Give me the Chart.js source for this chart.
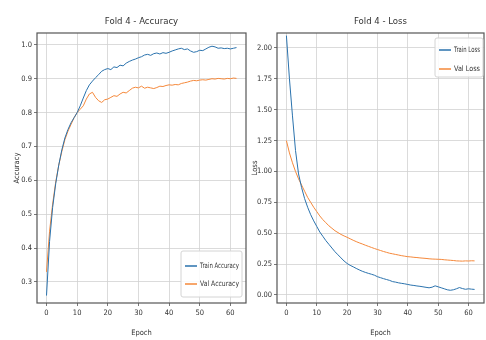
<!DOCTYPE html>
<html>
<head>
<meta charset="utf-8">
<script src="https://cdn.jsdelivr.net/npm/chart.js@4.4.1/dist/chart.umd.min.js"></script>
<style>
  html, body { margin: 0; padding: 0; background: #fff; }
  #wrap { position: relative; width: 486px; height: 340px; overflow: hidden; }
  canvas { position: absolute; top: 0; }
  #accChart { left: 0; }
  #lossChart { left: 246px; }
</style>
</head>
<body>
<div id="wrap">
  <canvas id="accChart" width="250" height="340"></canvas>
  <canvas id="lossChart" width="240" height="340"></canvas>
</div>
<script>
// epochs and per-epoch values
const epochs = [0, 1, 2, 3, 4, 5, 6, 7, 8, 9, 10, 11, 12, 13, 14, 15, 16, 17, 18, 19,
  20, 21, 22, 23, 24, 25, 26, 27, 28, 29, 30, 31, 32, 33, 34, 35, 36, 37, 38, 39,
  40, 41, 42, 43, 44, 45, 46, 47, 48, 49, 50, 51, 52, 53, 54, 55, 56, 57, 58, 59,
  60, 61, 62];

const trainAcc = [0.26, 0.42, 0.52, 0.59, 0.645, 0.69, 0.725, 0.75, 0.77, 0.785,
  0.80, 0.82, 0.843, 0.865, 0.882, 0.893, 0.903, 0.912, 0.922, 0.927,
  0.93, 0.927, 0.935, 0.933, 0.94, 0.938, 0.946, 0.951, 0.955, 0.958,
  0.962, 0.965, 0.97, 0.972, 0.969, 0.974, 0.976, 0.973, 0.977, 0.975,
  0.978, 0.982, 0.985, 0.988, 0.99, 0.986, 0.988, 0.982, 0.978, 0.98,
  0.984, 0.983, 0.988, 0.993, 0.996, 0.994, 0.99, 0.991, 0.989, 0.99,
  0.988, 0.99, 0.992];

const valAcc = [0.33, 0.45, 0.53, 0.595, 0.645, 0.685, 0.72, 0.745, 0.765, 0.785,
  0.80, 0.81, 0.82, 0.84, 0.855, 0.86, 0.845, 0.835, 0.83, 0.838,
  0.84, 0.845, 0.85, 0.848, 0.855, 0.86, 0.858, 0.865, 0.872, 0.875,
  0.873, 0.878, 0.872, 0.875, 0.873, 0.871, 0.874, 0.878, 0.877, 0.88,
  0.882, 0.881, 0.883, 0.882, 0.886, 0.888, 0.89, 0.893, 0.895, 0.894,
  0.896, 0.897, 0.896, 0.898, 0.90, 0.899, 0.901, 0.90, 0.899, 0.901,
  0.90, 0.902, 0.901];

const trainLoss = [2.10, 1.75, 1.45, 1.17, 0.98, 0.87, 0.78, 0.71, 0.65, 0.60,
  0.555, 0.51, 0.475, 0.44, 0.41, 0.38, 0.35, 0.325, 0.30, 0.275,
  0.255, 0.24, 0.228, 0.215, 0.203, 0.192, 0.183, 0.175, 0.168, 0.16,
  0.148, 0.14, 0.132, 0.125, 0.118, 0.108, 0.104, 0.098, 0.094, 0.09,
  0.085, 0.08, 0.077, 0.073, 0.07, 0.066, 0.062, 0.058, 0.063, 0.074,
  0.066, 0.058, 0.05, 0.042, 0.038, 0.042, 0.05, 0.06, 0.052, 0.046,
  0.05, 0.047, 0.045];

const valLoss = [1.25, 1.15, 1.07, 1.0, 0.94, 0.89, 0.84, 0.79, 0.75, 0.71,
  0.675, 0.64, 0.61, 0.585, 0.56, 0.54, 0.52, 0.505, 0.49, 0.478,
  0.467, 0.455, 0.443, 0.432, 0.422, 0.413, 0.403, 0.394, 0.385, 0.376,
  0.368, 0.36, 0.352, 0.345, 0.338, 0.333, 0.328, 0.323, 0.318, 0.314,
  0.31, 0.308, 0.305, 0.303, 0.30, 0.298, 0.296, 0.293, 0.291, 0.29,
  0.289, 0.288, 0.285, 0.283, 0.281, 0.279, 0.276, 0.275, 0.274, 0.276,
  0.275, 0.277, 0.276];

const epochTicks = [0, 10, 20, 30, 40, 50, 60];
const accTicks = [0.3, 0.4, 0.5, 0.6, 0.7, 0.8, 0.9, 1.0];
const lossTicks = [0, 0.25, 0.5, 0.75, 1.0, 1.25, 1.5, 1.75, 2.0];

const FONT = "'DejaVu Sans Condensed', 'Liberation Sans Narrow', 'DejaVu Sans', sans-serif";
const BLUE = '#2a72ad';
const ORANGE = '#f5883a';

Chart.defaults.font.family = FONT;
Chart.defaults.color = '#333';

// Helper to pair epochs with values for a linear x axis
function toPoints(values) {
  return values.map((v, i) => ({ x: epochs[i], y: v }));
}

// matplotlib-like box around the plot area
const framePlugin = {
  id: 'frame',
  afterDraw(chart) {
    const { ctx, chartArea: a } = chart;
    ctx.save();
    ctx.strokeStyle = '#555';
    ctx.lineWidth = 1.2;
    ctx.strokeRect(a.left, a.top, a.right - a.left, a.bottom - a.top);
    ctx.restore();
  }
};

// legend drawn inside the plot, like loc='lower right' / 'upper right'
const boxLegend = {
  id: 'boxLegend',
  afterDraw(chart, args, opts) {
    const ctx = chart.ctx;
    ctx.save();
    ctx.beginPath();
    ctx.roundRect(opts.x, opts.y, opts.w, opts.h, 2);
    ctx.fillStyle = 'rgba(255,255,255,0.85)';
    ctx.fill();
    ctx.strokeStyle = '#d4d4d4';
    ctx.lineWidth = 1;
    ctx.stroke();
    ctx.font = `7.5px ${FONT}`;
    ctx.textBaseline = 'middle';
    chart.data.datasets.forEach((ds, i) => {
      const cy = opts.y + opts.firstRow + i * opts.rowH;
      ctx.strokeStyle = ds.borderColor;
      ctx.lineWidth = 1.5;
      ctx.beginPath();
      ctx.moveTo(opts.x + 4, cy);
      ctx.lineTo(opts.x + 16, cy);
      ctx.stroke();
      ctx.fillStyle = '#333';
      // squeeze the label into the box, the source uses a narrow face
      ctx.fillText(ds.label, opts.x + 19, cy, opts.w - 22);
    });
    ctx.restore();
  }
};

function makeChart(id, cfg) {
  return new Chart(document.getElementById(id), {
    type: 'line',
    data: {
      datasets: cfg.series.map(s => ({
        label: s.label,
        data: toPoints(s.values),
        borderColor: s.color,
        borderWidth: 1,
        pointRadius: 0,
        tension: 0
      }))
    },
    options: {
      responsive: false,
      animation: false,
      layout: { padding: { right: cfg.padRight } },
      plugins: {
        legend: { display: false },
        tooltip: { enabled: false },
        title: {
          display: true,
          text: cfg.title,
          fullSize: false,
          font: { size: 9.5, weight: 'normal' },
          color: '#333',
          padding: { top: 16, bottom: 5.6 }
        },
        boxLegend: cfg.legend
      },
      scales: {
        x: {
          type: 'linear',
          min: -3.1,
          max: 65.1,
          afterBuildTicks: s => { s.ticks = epochTicks.map(v => ({ value: v })); },
          afterFit: s => { s.height = 37; },
          grid: { color: '#d2d2d2', lineWidth: 0.8, tickColor: '#555', tickLength: 3 },
          border: { display: false },
          ticks: { font: { size: 7.5 }, padding: 3, maxRotation: 0 },
          title: { display: true, text: 'Epoch', font: { size: 7.5 }, padding: { top: 0, bottom: 2.5 } }
        },
        y: {
          min: cfg.yMin,
          max: cfg.yMax,
          afterBuildTicks: s => { s.ticks = cfg.yTicks.map(v => ({ value: v })); },
          afterFit: s => { s.width = cfg.yWidth; },
          grid: { color: '#d2d2d2', lineWidth: 0.8, tickColor: '#555', tickLength: 3 },
          border: { display: false },
          ticks: { font: { size: 7.5 }, padding: 2, callback: v => v.toFixed(cfg.yDigits) },
          title: { display: true, text: cfg.yTitle, font: { size: 7.5 }, padding: { top: cfg.yTitlePad, bottom: 0 } }
        }
      }
    },
    plugins: [framePlugin, boxLegend]
  });
}

makeChart('accChart', {
  title: 'Fold 4 - Accuracy',
  series: [
    { label: 'Train Accuracy', values: trainAcc, color: BLUE },
    { label: 'Val Accuracy', values: valAcc, color: ORANGE }
  ],
  yMin: 0.238, yMax: 1.035, yTicks: accTicks, yDigits: 1,
  yTitle: 'Accuracy', yWidth: 37, yTitlePad: 12.5, padRight: 4,
  legend: { x: 181, y: 251, w: 61, h: 46, firstRow: 15, rowH: 18 }
});

makeChart('lossChart', {
  title: 'Fold 4 - Loss',
  series: [
    { label: 'Train Loss', values: trainLoss, color: BLUE },
    { label: 'Val Loss', values: valLoss, color: ORANGE }
  ],
  yMin: -0.065, yMax: 2.121, yTicks: lossTicks, yDigits: 2,
  yTitle: 'Loss', yWidth: 31, yTitlePad: 4.5, padRight: 2,
  legend: { x: 189, y: 38, w: 48, h: 39, firstRow: 12, rowH: 19 }
});
</script>
</body>
</html>
